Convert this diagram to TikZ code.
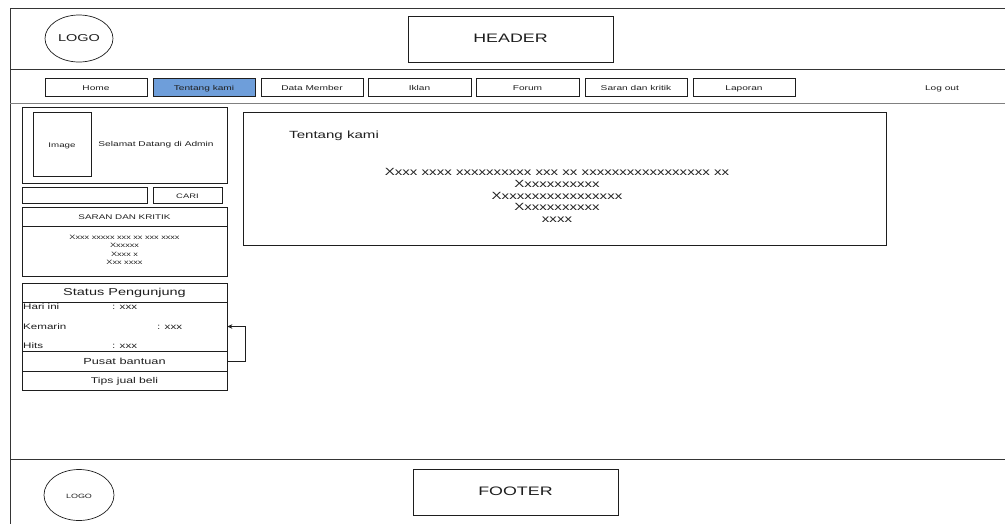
\documentclass[tikz,border=0pt]{standalone}
\usepackage{fontspec}
\setmainfont[FakeStretch=1.45]{Liberation Sans}
\usetikzlibrary{arrows.meta,shapes.geometric}
\newcommand\fsz[1]{\fontsize{#1}{#1}\selectfont}
\definecolor{navblue}{RGB}{110,158,218}
\definecolor{ink}{RGB}{30,30,30}
\tikzset{
  box/.style={draw=ink, line width=0.7pt, inner sep=0pt, text=ink, text height=0.72em, text depth=0.06em},
  navbtn/.style={box, minimum width=102pt, minimum height=18pt, font=\fsz{7}},
  frame/.style={draw=ink!90, line width=0.8pt},
  lbl/.style={inner sep=0pt, text=ink}
}
\begin{document}
\begin{tikzpicture}[x=1pt,y=-1pt]
\useasboundingbox (0,0) rectangle (1005,523);
% outer frame
\draw[frame] (1010,8) -- (10,8) -- (10,530);
\draw[frame] (10,69) -- (1010,69);
\draw[draw=gray, line width=1.2pt] (10,103.5) -- (1010,103.5);
\draw[frame] (10,459) -- (1010,459);
% header
\node[box, ellipse, minimum width=68pt, minimum height=47pt, font=\fsz{10}] (logo) at (79,38.5) {LOGO};
\node[box, minimum width=205pt, minimum height=46pt, font=\fsz{12.3}] (header) at (510.5,39) {HEADER};
% navigation
\node[navbtn] (home) at (96,87) {Home};
\node[navbtn, fill=navblue] (tentang) at (204,87) {Tentang kami};
\node[navbtn] (member) at (312,87) {Data Member};
\node[navbtn, minimum width=103pt] (iklan) at (419.5,87) {Iklan};
\node[navbtn, minimum width=103pt] (forum) at (527.5,87) {Forum};
\node[navbtn] (saranbtn) at (636,87) {Saran dan kritik};
\node[navbtn] (laporan) at (744,87) {Laporan};
\node[lbl, font=\fsz{7}, text height=0.72em, text depth=0.06em] (logout) at (942,87) {Log out};
% left panel: welcome
\node[box, minimum width=205pt, minimum height=76pt] (welcome) at (124.5,145) {};
\node[box, minimum width=58pt, minimum height=64pt, font=\fsz{6.7}] (image) at (62,144) {Image};
\node[lbl, font=\fsz{7}] (selamat) at (156,145) {Selamat Datang di Admin};
% search
\node[box, minimum width=125pt, minimum height=16pt] (search) at (84.5,195) {};
\node[box, minimum width=69pt, minimum height=16pt, font=\fsz{6.5}] (cari) at (187.5,195) {CARI};
% saran dan kritik
\node[box, minimum width=205pt, minimum height=19pt, font=\fsz{6.8}] (sarant) at (124.5,216.5) {SARAN DAN KRITIK};
\node[box, minimum width=205pt, minimum height=50pt] (saranb) at (124.5,251) {};
\node[lbl, align=center, font=\fontsize{6.3}{8.4}\selectfont] (sarantext) at (124.5,250) {Xxxx xxxxx xxx xx xxx xxxx\\Xxxxxx\\Xxxx x\\Xxx xxxx};
% status pengunjung
\node[box, minimum width=205pt, minimum height=19pt, font=\fsz{10}] (statust) at (124.5,292.5) {Status Pengunjung};
\node[box, minimum width=205pt, minimum height=49pt] (statusm) at (124.5,326.5) {};
\node[lbl, anchor=west, font=\fsz{8}] (hari) at (23,307) {Hari ini};
\node[lbl, anchor=west, font=\fsz{8}] (harival) at (112,307) {: xxx};
\node[lbl, anchor=west, font=\fsz{8}] (kemarin) at (23,327) {Kemarin};
\node[lbl, anchor=west, font=\fsz{8}] (kemval) at (157,327) {: xxx};
\node[lbl, anchor=west, font=\fsz{8}] (hits) at (23,346) {Hits};
\node[lbl, anchor=west, font=\fsz{8}] (hitsval) at (112,346) {: xxx};
\node[box, minimum width=205pt, minimum height=20pt, font=\fsz{8.8}] (pusat) at (124.5,361) {Pusat bantuan};
\node[box, minimum width=205pt, minimum height=19pt, font=\fsz{8.4}] (tips) at (124.5,380.5) {Tips jual beli};
\draw[draw=ink, line width=0.7pt, -{Stealth[length=5pt,width=4.5pt]}] (pusat.east) -- ++(18,0) |- (statusm.east);
% main content
\node[box, minimum width=643pt, minimum height=133pt] (main) at (564.5,178.5) {};
\node[lbl, anchor=west, font=\fsz{10.4}] (maintitle) at (289,136) {Tentang kami};
\node[lbl, align=center, font=\fontsize{10.4}{11.6}\selectfont] (maintext) at (557,195.5) {Xxxx xxxx xxxxxxxxxx xxx xx xxxxxxxxxxxxxxxxx xx\\Xxxxxxxxxxx\\Xxxxxxxxxxxxxxxxx\\Xxxxxxxxxxx\\xxxx};
% footer
\node[box, ellipse, minimum width=70pt, minimum height=51pt, font=\fsz{6.2}] (flogo) at (79,495) {LOGO};
\node[box, minimum width=205pt, minimum height=46pt, font=\fsz{12.3}] (footer) at (515.5,492) {FOOTER};
\end{tikzpicture}
\end{document}
